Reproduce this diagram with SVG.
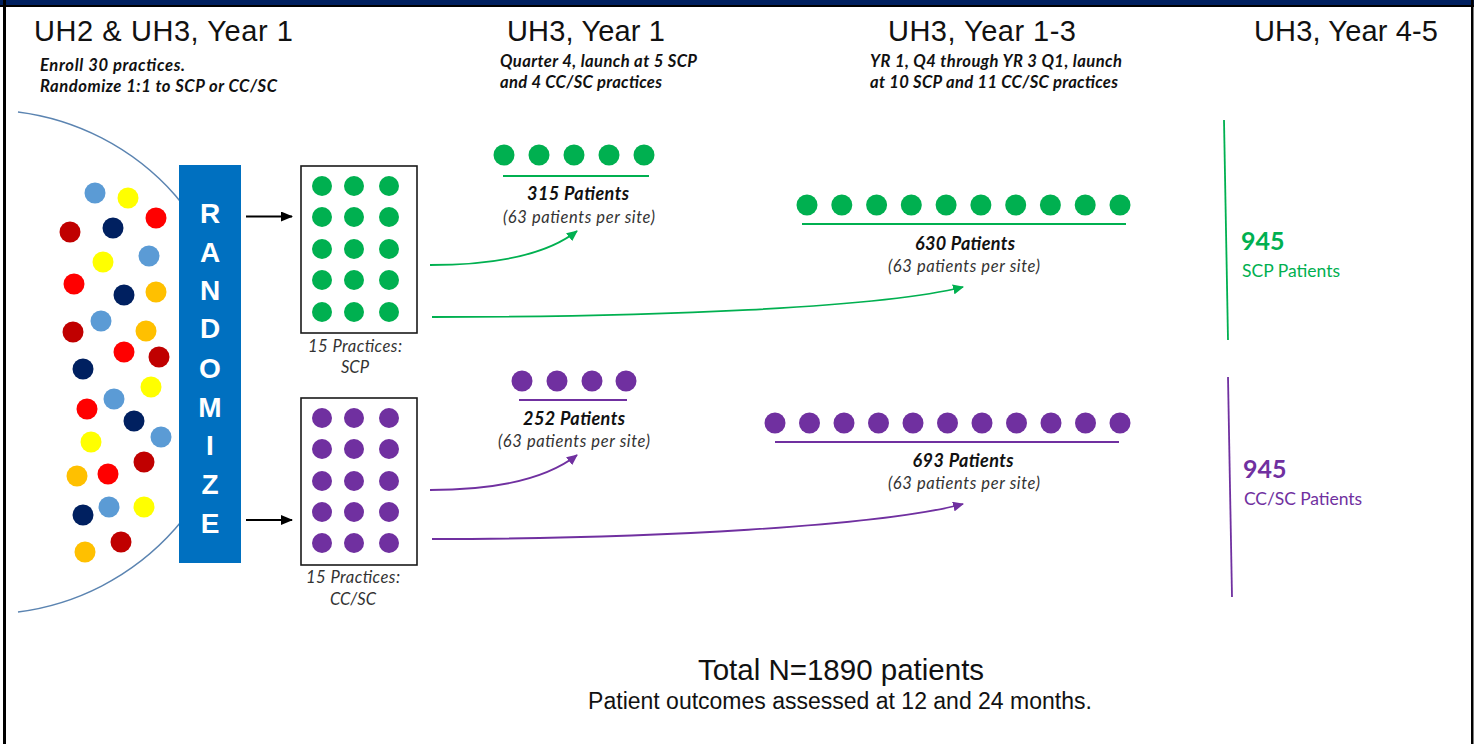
<svg xmlns="http://www.w3.org/2000/svg" width="1478" height="744" viewBox="0 0 1478 744">
  <defs>
    <style>
      .head { font-family: "Liberation Sans", Arial, sans-serif; font-size: 29px; fill: #111; }
      .note { font-family: Lato, "Noto Sans", sans-serif; font-size: 16.6px; font-weight: bold; font-style: italic; fill: #111; }
      .count { font-family: Lato, "Noto Sans", sans-serif; font-size: 18px; font-weight: bold; font-style: italic; fill: #111; text-anchor: middle; }
      .per { font-family: Lato, "Noto Sans", sans-serif; font-size: 16.5px; font-style: italic; fill: #333; text-anchor: middle; }
      .cap { font-family: Lato, "Noto Sans", sans-serif; font-size: 16.6px; font-style: italic; fill: #333; text-anchor: middle; }
      .rand { font-family: "Liberation Sans", Arial, sans-serif; font-size: 28px; font-weight: bold; fill: #fff; text-anchor: middle; }
      .big { font-family: Lato, "Noto Sans", sans-serif; font-size: 25px; font-weight: bold; }
      .lab { font-family: Lato, "Noto Sans", sans-serif; font-size: 17.5px; }
      .total { font-family: "Liberation Sans", Arial, sans-serif; font-size: 29.5px; fill: #111; text-anchor: middle; }
      .sub { font-family: "Liberation Sans", Arial, sans-serif; font-size: 23px; fill: #111; text-anchor: middle; }
      .g { fill: #00B050; }
      .p { fill: #7030A0; }
      .gs { stroke: #00B050; fill: none; }
      .ps { stroke: #7030A0; fill: none; }
      .box { fill: #fff; stroke: #1a1a1a; stroke-width: 1.6; }
    </style>
    <linearGradient id="rule" x1="0" y1="0" x2="1" y2="0">
      <stop offset="0" stop-color="#7aa7d8"/>
      <stop offset="0.5" stop-color="#5b9bd5"/>
      <stop offset="1" stop-color="#8fb8e3"/>
    </linearGradient>
    <marker id="ah-black" markerUnits="userSpaceOnUse" markerWidth="12" markerHeight="10" refX="11" refY="5" orient="auto">
      <path d="M0,0 L12,5 L0,10 z" fill="#000"/>
    </marker>
    <marker id="ah-green" markerUnits="userSpaceOnUse" markerWidth="11" markerHeight="10" refX="10" refY="5" orient="auto">
      <path d="M0,0 L11,5 L0,10 z" fill="#00B050"/>
    </marker>
    <marker id="ah-purple" markerUnits="userSpaceOnUse" markerWidth="11" markerHeight="10" refX="10" refY="5" orient="auto">
      <path d="M0,0 L11,5 L0,10 z" fill="#7030A0"/>
    </marker>
  </defs>

  <!-- page frame -->
  <rect x="0" y="0" width="1478" height="744" fill="#fff"/>
  <rect x="0" y="0" width="1474" height="5" fill="#002060"/>
  <rect x="0" y="5" width="1474" height="2" fill="#000"/>
  <rect x="3" y="0" width="3" height="744" fill="#000"/>
  <rect x="1471" y="0" width="2.5" height="744" fill="#000"/>

  <!-- phase headings -->
  <g id="headings">
    <text class="head" x="34" y="41" textLength="259">UH2 &amp; UH3, Year 1</text>
    <text class="head" x="507" y="41" textLength="158">UH3, Year 1</text>
    <text class="head" x="888" y="41" textLength="188">UH3, Year 1-3</text>
    <text class="head" x="1254" y="41" textLength="184">UH3, Year 4-5</text>
    <line x1="33" y1="47.5" x2="1421" y2="47.5" stroke="url(#rule)" stroke-width="2"/>
    <text class="note" x="40" y="71" textLength="145">Enroll 30 practices.</text>
    <text class="note" x="40" y="92" textLength="237">Randomize 1:1 to SCP or CC/SC</text>
    <text class="note" x="500" y="67" textLength="197">Quarter 4, launch at 5 SCP</text>
    <text class="note" x="500" y="88" textLength="162">and 4 CC/SC practices</text>
    <text class="note" x="870" y="67" textLength="252">YR 1, Q4 through YR 3 Q1, launch</text>
    <text class="note" x="870" y="88" textLength="248">at 10 SCP and 11 CC/SC practices</text>
  </g>

  <!-- enrolled practice pool -->
  <g id="practice-pool">
    <path d="M18,112 A252,252 0 0 1 18,612" fill="none" stroke="#5b84b1" stroke-width="1.5"/>
    <g>
      <circle cx="95" cy="193" r="10.5" fill="#5B9BD5"/>
      <circle cx="128" cy="198" r="10.5" fill="#FFFF00"/>
      <circle cx="156" cy="218" r="10.5" fill="#FF0000"/>
      <circle cx="70" cy="232" r="10.5" fill="#C00000"/>
      <circle cx="113" cy="228" r="10.5" fill="#002060"/>
      <circle cx="103" cy="262" r="10.5" fill="#FFFF00"/>
      <circle cx="149" cy="256" r="10.5" fill="#5B9BD5"/>
      <circle cx="74" cy="284" r="10.5" fill="#FF0000"/>
      <circle cx="124" cy="295" r="10.5" fill="#002060"/>
      <circle cx="156" cy="292" r="10.5" fill="#FFC000"/>
      <circle cx="101" cy="321" r="10.5" fill="#5B9BD5"/>
      <circle cx="73" cy="332" r="10.5" fill="#C00000"/>
      <circle cx="146" cy="331" r="10.5" fill="#FFC000"/>
      <circle cx="124" cy="352" r="10.5" fill="#FF0000"/>
      <circle cx="159" cy="357" r="10.5" fill="#C00000"/>
      <circle cx="83" cy="369" r="10.5" fill="#002060"/>
      <circle cx="151" cy="387" r="10.5" fill="#FFFF00"/>
      <circle cx="114" cy="399" r="10.5" fill="#5B9BD5"/>
      <circle cx="87" cy="409" r="10.5" fill="#FF0000"/>
      <circle cx="134" cy="421" r="10.5" fill="#002060"/>
      <circle cx="161" cy="437" r="10.5" fill="#5B9BD5"/>
      <circle cx="91" cy="442" r="10.5" fill="#FFFF00"/>
      <circle cx="144" cy="462" r="10.5" fill="#C00000"/>
      <circle cx="77" cy="476" r="10.5" fill="#FFC000"/>
      <circle cx="108" cy="474" r="10.5" fill="#FF0000"/>
      <circle cx="83" cy="515" r="10.5" fill="#002060"/>
      <circle cx="109" cy="507" r="10.5" fill="#5B9BD5"/>
      <circle cx="144" cy="507" r="10.5" fill="#FFFF00"/>
      <circle cx="85" cy="552" r="10.5" fill="#FFC000"/>
      <circle cx="121" cy="542" r="10.5" fill="#C00000"/>
    </g>
  </g>

  <!-- randomize bar -->
  <g id="randomize">
    <rect x="179" y="165" width="62" height="398" fill="#0070C0"/>
    <text class="rand" x="210" y="223">R</text>
    <text class="rand" x="210" y="262">A</text>
    <text class="rand" x="210" y="300">N</text>
    <text class="rand" x="210" y="338">D</text>
    <text class="rand" x="210" y="378">O</text>
    <text class="rand" x="210" y="417">M</text>
    <text class="rand" x="210" y="455">I</text>
    <text class="rand" x="210" y="494">Z</text>
    <text class="rand" x="210" y="533">E</text>
  </g>

  <!-- SCP arm practices -->
  <g id="scp-practices">
    <rect class="box" x="301" y="166" width="116" height="167"/>
    <g class="g">
      <circle cx="322" cy="186" r="10"/><circle cx="354" cy="186" r="10"/><circle cx="389" cy="186" r="10"/>
      <circle cx="322" cy="217" r="10"/><circle cx="354" cy="217" r="10"/><circle cx="389" cy="217" r="10"/>
      <circle cx="322" cy="249" r="10"/><circle cx="354" cy="249" r="10"/><circle cx="389" cy="249" r="10"/>
      <circle cx="322" cy="280" r="10"/><circle cx="354" cy="280" r="10"/><circle cx="389" cy="280" r="10"/>
      <circle cx="322" cy="312" r="10"/><circle cx="354" cy="312" r="10"/><circle cx="389" cy="312" r="10"/>
    </g>
    <text class="cap" x="355" y="352" textLength="94">15 Practices:</text>
    <text class="cap" x="355" y="373">SCP</text>
  </g>

  <!-- CC/SC arm practices -->
  <g id="ccsc-practices">
    <rect class="box" x="301" y="398" width="116" height="167"/>
    <g class="p">
      <circle cx="322" cy="418" r="10"/><circle cx="354" cy="418" r="10"/><circle cx="389" cy="418" r="10"/>
      <circle cx="322" cy="449" r="10"/><circle cx="354" cy="449" r="10"/><circle cx="389" cy="449" r="10"/>
      <circle cx="322" cy="481" r="10"/><circle cx="354" cy="481" r="10"/><circle cx="389" cy="481" r="10"/>
      <circle cx="322" cy="512" r="10"/><circle cx="354" cy="512" r="10"/><circle cx="389" cy="512" r="10"/>
      <circle cx="322" cy="543" r="10"/><circle cx="354" cy="543" r="10"/><circle cx="389" cy="543" r="10"/>
    </g>
    <text class="cap" x="353" y="583" textLength="94">15 Practices:</text>
    <text class="cap" x="353" y="605">CC/SC</text>
  </g>

  <!-- SCP launch, year 1 -->
  <g id="scp-315">
    <g class="g">
      <circle cx="504" cy="155" r="10.5"/><circle cx="539" cy="155" r="10.5"/><circle cx="574" cy="155" r="10.5"/>
      <circle cx="609" cy="155" r="10.5"/><circle cx="644" cy="155" r="10.5"/>
    </g>
    <line class="gs" x1="503" y1="176" x2="649" y2="176" stroke-width="2"/>
    <text class="count" x="578" y="200" textLength="102">315 Patients</text>
    <text class="per" x="579" y="223" textLength="152">(63 patients per site)</text>
  </g>

  <!-- SCP launch, years 1-3 -->
  <g id="scp-630">
    <g class="g">
      <circle cx="807" cy="205" r="10.5"/><circle cx="841.8" cy="205" r="10.5"/><circle cx="876.6" cy="205" r="10.5"/>
      <circle cx="911.3" cy="205" r="10.5"/><circle cx="946.1" cy="205" r="10.5"/><circle cx="980.9" cy="205" r="10.5"/>
      <circle cx="1015.7" cy="205" r="10.5"/><circle cx="1050.4" cy="205" r="10.5"/><circle cx="1085.2" cy="205" r="10.5"/>
      <circle cx="1120" cy="205" r="10.5"/>
    </g>
    <line class="gs" x1="802" y1="224" x2="1126" y2="224" stroke-width="2"/>
    <text class="count" x="965" y="250" textLength="100">630 Patients</text>
    <text class="per" x="964" y="272" textLength="152">(63 patients per site)</text>
  </g>

  <!-- CC/SC launch, year 1 -->
  <g id="ccsc-252">
    <g class="p">
      <circle cx="522" cy="381" r="10.5"/><circle cx="557" cy="381" r="10.5"/>
      <circle cx="592" cy="381" r="10.5"/><circle cx="626" cy="381" r="10.5"/>
    </g>
    <line class="ps" x1="519" y1="400" x2="627" y2="400" stroke-width="2"/>
    <text class="count" x="574" y="425" textLength="102">252 Patients</text>
    <text class="per" x="574" y="447" textLength="152">(63 patients per site)</text>
  </g>

  <!-- CC/SC launch, years 1-3 -->
  <g id="ccsc-693">
    <g class="p">
      <circle cx="775" cy="423" r="10.5"/><circle cx="809.5" cy="423" r="10.5"/><circle cx="844" cy="423" r="10.5"/>
      <circle cx="878.5" cy="423" r="10.5"/><circle cx="913" cy="423" r="10.5"/><circle cx="947.5" cy="423" r="10.5"/>
      <circle cx="982" cy="423" r="10.5"/><circle cx="1016.5" cy="423" r="10.5"/><circle cx="1051" cy="423" r="10.5"/>
      <circle cx="1085.5" cy="423" r="10.5"/><circle cx="1120" cy="423" r="10.5"/>
    </g>
    <line class="ps" x1="775" y1="442" x2="1119" y2="442" stroke-width="2"/>
    <text class="count" x="963" y="467" textLength="101">693 Patients</text>
    <text class="per" x="964" y="489" textLength="152">(63 patients per site)</text>
  </g>

  <!-- arm totals -->
  <g id="scp-total">
    <line class="gs" x1="1224" y1="120" x2="1228" y2="340" stroke-width="1.8"/>
    <text class="big g" x="1241" y="250">945</text>
    <text class="lab g" x="1242" y="277" textLength="98">SCP Patients</text>
  </g>
  <g id="ccsc-total">
    <line class="ps" x1="1228" y1="377" x2="1232" y2="597" stroke-width="1.8"/>
    <text class="big p" x="1243" y="478">945</text>
    <text class="lab p" x="1244" y="505" textLength="118">CC/SC Patients</text>
  </g>

  <!-- connectors -->
  <g id="connectors">
    <line x1="246" y1="216.5" x2="292" y2="216.5" stroke="#000" stroke-width="2" marker-end="url(#ah-black)"/>
    <line x1="246" y1="520" x2="292" y2="520" stroke="#000" stroke-width="2" marker-end="url(#ah-black)"/>
    <path class="gs" d="M430,265 C492,265 545,256 577,231" stroke-width="1.8" marker-end="url(#ah-green)"/>
    <path class="gs" d="M432,317 C650,317 880,308 963,287" stroke-width="1.8" marker-end="url(#ah-green)"/>
    <path class="ps" d="M430,490 C492,490 545,480 577,455" stroke-width="1.8" marker-end="url(#ah-purple)"/>
    <path class="ps" d="M432,539 C650,539 880,526 963,504" stroke-width="1.8" marker-end="url(#ah-purple)"/>
  </g>

  <!-- study total -->
  <g id="footer">
    <line x1="38" y1="642.5" x2="1428" y2="642.5" stroke="url(#rule)" stroke-width="2"/>
    <text class="total" x="841" y="680">Total N=1890 patients</text>
    <text class="sub" x="840" y="709">Patient outcomes assessed at 12 and 24 months.</text>
  </g>
</svg>
